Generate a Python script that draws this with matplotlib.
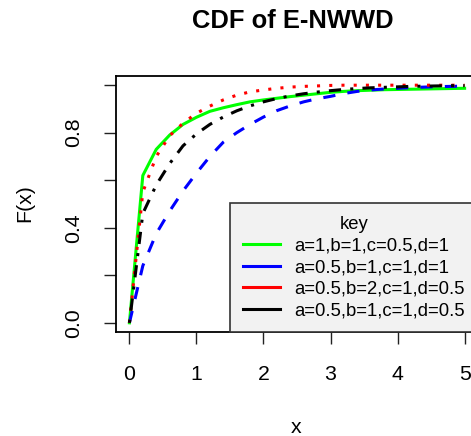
import matplotlib
matplotlib.use("Agg")
import matplotlib.pyplot as plt

plt.rcParams['font.family'] = ['Liberation Sans', 'DejaVu Sans']

x = [0, 0.2, 0.4, 0.6, 0.8, 1.0, 1.2, 1.4, 1.6, 1.8, 2.0, 2.2, 2.4,
     2.6, 2.8, 3.0, 3.2, 3.4, 3.6, 3.8, 4.0, 4.2, 4.4, 4.6, 4.8, 5.0]

# values
f_green = [0, 0.62, 0.73, 0.79, 0.835, 0.865, 0.89, 0.905, 0.918, 0.93, 0.938,
           0.945, 0.952, 0.958, 0.964, 0.970, 0.974, 0.977, 0.979, 0.981,
           0.982, 0.983, 0.984, 0.985, 0.986, 0.987]
f_blue = [0, 0.24, 0.375, 0.47, 0.555, 0.63, 0.70, 0.76, 0.80, 0.835, 0.866,
          0.893, 0.913, 0.93, 0.943, 0.953, 0.965, 0.974, 0.98, 0.984, 0.987,
          0.99, 0.992, 0.994, 0.995, 0.996]
f_red = [0, 0.55, 0.70, 0.787, 0.84, 0.882, 0.912, 0.938, 0.958, 0.972, 0.98,
         0.987, 0.992, 0.995, 0.997, 0.999, 1.0, 1.0, 1.0, 1.0, 1.0, 1.0,
         1.0, 1.0, 1.0, 1.0]
f_black = [0, 0.46, 0.58, 0.67, 0.745, 0.795, 0.835, 0.866, 0.892, 0.913, 0.93,
           0.944, 0.955, 0.964, 0.971, 0.977, 0.982, 0.986, 0.989, 0.991,
           0.993, 0.995, 0.996, 0.997, 0.998, 0.998]

labels = ["a=1,b=1,c=0.5,d=1", "a=0.5,b=1,c=1,d=1",
          "a=0.5,b=2,c=1,d=0.5", "a=0.5,b=1,c=1,d=0.5"]

fig = plt.figure(figsize=(4.71, 4.36), dpi=100)
ax = fig.add_axes([0.2463, 0.2378, 0.7686, 0.5886])

lw = 2.2
ax.plot(x, f_green, color="#00ff00", lw=lw)
ax.plot(x, f_blue, color="#0000ff", lw=lw, linestyle=(0, (4, 4)))
ax.plot(x, f_red, color="#ff0000", lw=lw, linestyle=(0, (1, 3)))
ax.plot(x, f_black, color="black", lw=lw, linestyle=(0, (1, 3, 4, 3)))

ax.set_xlim(-0.2, 5.2)
ax.set_ylim(-0.04, 1.04)
ax.set_xticks([0, 1, 2, 3, 4, 5])
ax.set_yticks([0, 0.2, 0.4, 0.6, 0.8, 1.0])
ax.set_yticklabels(["0.0", "", "0.4", "", "0.8", ""], rotation=90, va="center")
ax.tick_params(length=8.5, width=1, pad=15, labelsize=15.3, color="#222222")
for s in ax.spines.values():
    s.set_linewidth(1.3)

fig.text(0.622, 0.951, "CDF of E-NWWD", ha="center", va="center",
         fontsize=18.4, fontweight="bold")
fig.text(0.628, 0.006, "x", ha="center", va="baseline", fontsize=15.3)
fig.text(0.053, 0.534, "F(x)", ha="center", va="center", fontsize=15.3,
         rotation=90)

handles = [plt.Line2D([], [], color=c, lw=lw)
           for c in ["#00ff00", "#0000ff", "#ff0000", "black"]]
leg = ax.legend(handles, labels, title="key", loc="lower right",
                borderaxespad=0, fancybox=False, framealpha=1,
                facecolor="#f2f2f2", edgecolor="#333333",
                fontsize=13.3, title_fontsize=13.3, handlelength=2.0,
                handletextpad=0.75, labelspacing=0.24, borderpad=0.72)
leg.get_frame().set_linewidth(1.2)

fig.savefig("out.png", dpi=100)
